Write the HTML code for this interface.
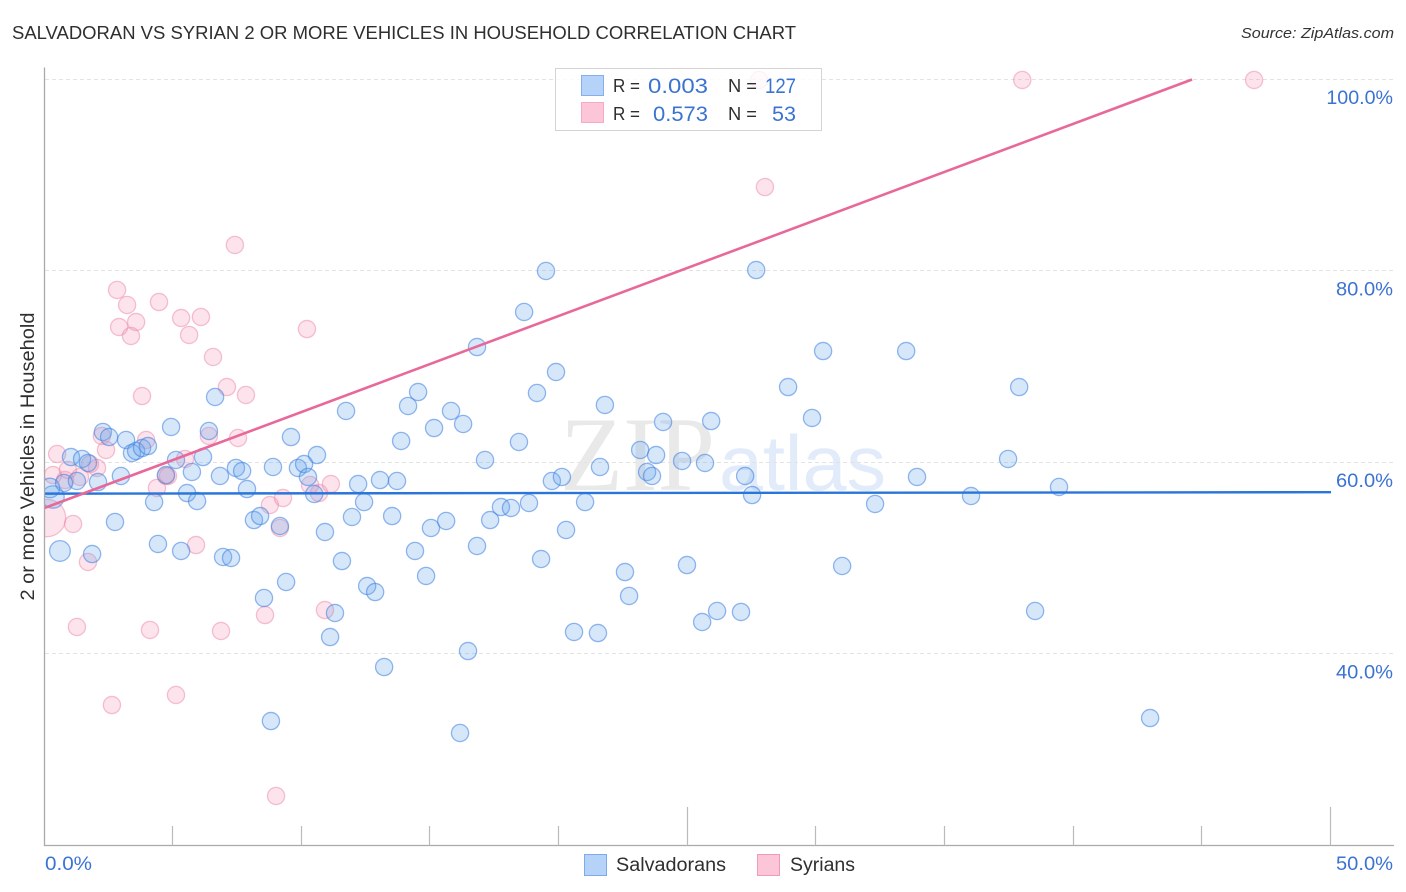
<!DOCTYPE html>
<html>
<head>
<meta charset="utf-8">
<title>Salvadoran vs Syrian 2 or More Vehicles in Household Correlation Chart</title>
<style>
html,body{margin:0;padding:0;background:#fff;}
body{width:1406px;height:892px;overflow:hidden;}
svg{display:block;font-family:"Liberation Sans",sans-serif;}
</style>
</head>
<body>
<svg id="chart" width="1406" height="892" viewBox="0 0 1406 892" xmlns="http://www.w3.org/2000/svg">
  <defs>
    <clipPath id="plot-clip"><rect x="45" y="60" width="1349" height="786"/></clipPath>
  </defs>
  <rect x="0" y="0" width="1406" height="892" fill="#ffffff"/>
  <text x="12" y="39" font-size="18.5" fill="#2f2f2f" textLength="784" lengthAdjust="spacingAndGlyphs">SALVADORAN VS SYRIAN 2 OR MORE VEHICLES IN HOUSEHOLD CORRELATION CHART</text>
  <text x="1394" y="38" font-size="15" font-style="italic" fill="#333333" text-anchor="end" textLength="153" lengthAdjust="spacingAndGlyphs">Source: ZipAtlas.com</text>
  <g>
    <text x="560" y="490" font-family="'Liberation Serif',serif" font-size="106" fill="#e9e9e9" textLength="155" lengthAdjust="spacingAndGlyphs">ZIP</text>
    <text x="719" y="490" font-size="78" fill="#e2ebf9" textLength="167" lengthAdjust="spacingAndGlyphs">atlas</text>
  </g>
  <g id="grid"></g>
  <g id="points" clip-path="url(#plot-clip)"></g>
  <g id="trends" clip-path="url(#plot-clip)"></g>
  <g id="axes"></g>
  <text x="0" y="0" transform="translate(34,456.5) rotate(-90)" font-size="19" fill="#2f2f2f" text-anchor="middle" textLength="288" lengthAdjust="spacingAndGlyphs">2 or more Vehicles in Household</text>

  <g>
    <rect x="555.5" y="68.5" width="266" height="62" fill="#ffffff" fill-opacity="0.8" stroke="#d4d4d4" stroke-width="1"/>
    <rect x="581.5" y="75.5" width="22" height="20" fill="#b5d2f8" stroke="#86aeea" stroke-width="1"/>
    <rect x="581.5" y="102.5" width="22" height="20" fill="#fdc6d8" stroke="#f4abc3" stroke-width="1"/>
    <text x="613" y="92" font-size="18" fill="#2f2f2f" textLength="27" lengthAdjust="spacingAndGlyphs">R =</text>
    <text x="648" y="93" font-size="21.5" fill="#3b73d2" textLength="60" lengthAdjust="spacingAndGlyphs">0.003</text>
    <text x="728" y="92" font-size="18" fill="#2f2f2f" textLength="29" lengthAdjust="spacingAndGlyphs">N =</text>
    <text x="765" y="93" font-size="21.5" fill="#3b73d2" textLength="31" lengthAdjust="spacingAndGlyphs">127</text>
    <text x="613" y="120" font-size="18" fill="#2f2f2f" textLength="27" lengthAdjust="spacingAndGlyphs">R =</text>
    <text x="653" y="121" font-size="21.5" fill="#3b73d2" textLength="55" lengthAdjust="spacingAndGlyphs">0.573</text>
    <text x="728" y="120" font-size="18" fill="#2f2f2f" textLength="29" lengthAdjust="spacingAndGlyphs">N =</text>
    <text x="772" y="121" font-size="21.5" fill="#3b73d2" textLength="24" lengthAdjust="spacingAndGlyphs">53</text>
  </g>

  <g>
    <rect x="584.5" y="854.5" width="22" height="21" fill="#b5d2f8" stroke="#7fa9e8" stroke-width="1"/>
    <text x="616" y="871" font-size="19" fill="#2f2f2f" textLength="110" lengthAdjust="spacingAndGlyphs">Salvadorans</text>
    <rect x="757.5" y="854.5" width="22" height="21" fill="#fdc6d8" stroke="#f09ab6" stroke-width="1"/>
    <text x="790" y="871" font-size="19" fill="#2f2f2f" textLength="65" lengthAdjust="spacingAndGlyphs">Syrians</text>
  </g>
</svg>

<script>
const yTickValues = [100, 80, 60, 40];
const yTickLabels = ['100.0%', '80.0%', '60.0%', '40.0%'];
const xTickValues = [5, 10, 15, 20, 25, 30, 35, 40, 45, 50];
const xEndValues = [0, 50];
const xEndLabels = ['0.0%', '50.0%'];

const salvadoranX = [0.33,0.60,0.21,1.03,1.46,1.69,0.76,1.26,2.08,2.97,
2.27,2.51,3.17,3.40,3.56,3.79,4.02,4.92,5.11,6.16,
6.39,4.72,5.73,6.82,7.44,7.68,7.87,5.54,5.93,4.26,
9.58,10.59,9.85,10.09,10.24,10.48,8.88,8.14,8.38,9.15,
2.74,4.41,5.31,6.94,7.25,1.85,8.53,9.39,11.29,11.10,
10.90,11.56,11.95,
11.72,14.13,14.52,15.80,15.14,16.27,16.81,18.64,19.49,19.88,
19.14,18.44,17.12,13.86,13.04,13.70,12.42,13.51,12.19,14.40,
14.83,15.02,15.61,16.81,17.32,17.74,18.13,18.83,19.30,20.27,
21.01,19.72,20.11,21.59,21.78,22.56,22.72,20.58,21.51,16.46,
13.20,16.15,8.80,12.54,12.85,23.15,23.42,23.61,23.77,24.04,
24.78,25.67,25.91,27.23,27.50,24.97,25.56,26.14,27.07,27.66,
28.90,29.83,30.26,33.49,31.00,32.28,33.91,36.01,37.45,37.88,
38.50,39.43,42.97,6.63];

const salvadoranY = [56.40,50.76,57.34,60.57,60.37,59.95,57.86,58.07,57.96,58.59,
63.19,62.66,62.35,60.99,61.20,61.51,61.72,63.71,60.26,60.57,
63.29,58.69,59.01,58.59,59.43,59.11,57.23,56.81,55.98,55.87,
62.66,60.78,59.43,59.84,58.49,56.71,59.53,53.99,54.41,53.37,
53.79,51.49,50.76,50.13,50.03,50.44,45.85,47.52,44.28,41.77,
52.74,49.71,54.31,
65.38,65.90,67.36,65.38,63.60,64.02,72.06,75.72,80.00,69.45,
67.26,62.14,60.26,62.25,58.17,58.07,55.87,54.41,57.75,50.76,
48.15,53.16,53.89,51.28,53.99,55.35,55.25,55.77,49.92,52.95,
55.87,58.07,58.49,59.53,66.01,48.56,46.06,42.30,42.19,40.31,
38.64,31.75,33.00,47.10,46.47,61.31,59.01,58.59,60.78,64.23,
60.16,59.95,64.33,58.59,56.60,49.29,43.34,44.49,44.39,80.10,
67.88,64.65,71.64,71.64,49.19,55.67,58.49,56.50,60.37,67.88,
44.49,57.44,33.31,66.84];

const salvadoranLeadWeights = [1.7, 1.45, 1.3];

const syrianX = [0.10,0.49,0.33,1.11,1.69,2.23,2.39,0.80,1.38,0.91,
2.04,1.77,3.95,4.72,4.80,4.37,5.46,6.39,7.52,1.26,
4.10,6.86,5.89,8.57,10.90,9.15,8.76,9.27,10.32,10.67,
11.13,2.62,5.11,9.00,7.40,2.82,3.21,2.90,3.56,3.36,
4.45,5.31,6.08,5.62,6.55,7.09,7.83,3.79,10.20,27.77,
38.00,47.01,28.00];

const syrianY = [54.20,60.89,58.69,53.58,49.61,62.77,61.31,58.17,58.49,59.22,
59.43,59.84,62.35,58.59,58.59,57.34,60.37,62.77,62.56,42.82,
42.51,42.40,51.38,44.07,44.59,53.16,55.56,56.29,57.65,56.81,
57.75,34.67,35.72,25.17,82.72,78.02,76.45,74.15,74.67,73.21,
76.76,75.09,75.20,73.32,71.02,67.88,67.05,66.94,73.94,99.95,
99.95,99.95,88.77];

const syrianLeadWeights = [4.7];

const salvadoranTrendX = [0, 50];
const salvadoranTrendY = [56.75, 56.9];
const syrianTrendX = [0, 44.6];
const syrianTrendY = [55.25, 100];

function xScale(v) { return 44.5 + v * 25.73; }
function yScale(v) { return 79.5 + (100 - v) * 9.575; }

const NS = 'http://www.w3.org/2000/svg';
function make(tag, parent, attrs) {
  const el = document.createElementNS(NS, tag);
  for (const k in attrs) el.setAttribute(k, attrs[k]);
  parent.appendChild(el);
  return el;
}

const gridGroup = document.getElementById('grid');
const axesGroup = document.getElementById('axes');
const pointsGroup = document.getElementById('points');
const trendsGroup = document.getElementById('trends');

yTickValues.forEach(function (v, i) {
  const y = Math.round(yScale(v)) - 0.5;
  const line = make('line', gridGroup, {x1: 45, x2: 1394, y1: y, y2: y, stroke: '#e3e3e3', 'stroke-width': 1, 'stroke-dasharray': '4 3'});
  
  
  const label = make('text', axesGroup, {x: 1393, y: yScale(v) + 24.5, 'font-size': 19.5, fill: '#3b73d2', 'text-anchor': 'end', textLength: yTickLabels[i].length * 9.6 + 9, lengthAdjust: 'spacingAndGlyphs'});
  label.textContent = yTickLabels[i];
  
  
});

const yAxisLine = make('line', axesGroup, {x1: 44.5, x2: 44.5, y1: 67.5, y2: 846, stroke: '#aaaaaa', 'stroke-width': 1.3});


const xAxisLine = make('line', axesGroup, {x1: 44, x2: 1394, y1: 845.5, y2: 845.5, stroke: '#aaaaaa', 'stroke-width': 1.3});



xTickValues.forEach(function (v) {
  const x = Math.round(xScale(v)) - 0.5;
  const top = (v % 25 === 0) ? 807 : 826;
  const tick = make('line', axesGroup, {x1: x, x2: x, y1: top, y2: 845.5, stroke: '#bbbbbb', 'stroke-width': 1.2});
  
  
});

xEndValues.forEach(function (v, i) {
  const isLast = i === xEndValues.length - 1;
  const label = make('text', axesGroup, {
    x: isLast ? 1393 : xScale(v) + 0.5,
    y: 870,
    'font-size': 19.5,
    fill: '#3b73d2',
    'text-anchor': isLast ? 'end' : 'start',
    textLength: isLast ? 57 : 47,
    lengthAdjust: 'spacingAndGlyphs'
  });
  label.textContent = xEndLabels[i];
  
  
});

function radius(weight) { return 8.6 * Math.sqrt(weight); }

syrianX.forEach(function (v, i) {
  const w = i < syrianLeadWeights.length ? syrianLeadWeights[i] : 1;
  const c = make('circle', pointsGroup, {
    cx: xScale(v), cy: yScale(syrianY[i]), r: radius(w),
    fill: 'rgba(246,150,182,0.27)', stroke: 'rgba(236,135,168,0.5)', 'stroke-width': 1.3
  });
  
  
});

salvadoranX.forEach(function (v, i) {
  const w = i < salvadoranLeadWeights.length ? salvadoranLeadWeights[i] : 1;
  const c = make('circle', pointsGroup, {
    cx: xScale(v), cy: yScale(salvadoranY[i]), r: radius(w),
    fill: 'rgba(105,165,238,0.27)', stroke: 'rgba(62,128,224,0.56)', 'stroke-width': 1.3
  });
  
  
});

const blueTrend = make('line', trendsGroup, {
  x1: xScale(salvadoranTrendX[0]), y1: yScale(salvadoranTrendY[0]),
  x2: xScale(salvadoranTrendX[1]), y2: yScale(salvadoranTrendY[1]),
  stroke: '#2a75d9', 'stroke-width': 2.4
});



const pinkTrend = make('line', trendsGroup, {
  x1: xScale(syrianTrendX[0]), y1: yScale(syrianTrendY[0]),
  x2: xScale(syrianTrendX[1]), y2: yScale(syrianTrendY[1]),
  stroke: '#e8689a', 'stroke-width': 2.6
});


</script>
</body>
</html>
